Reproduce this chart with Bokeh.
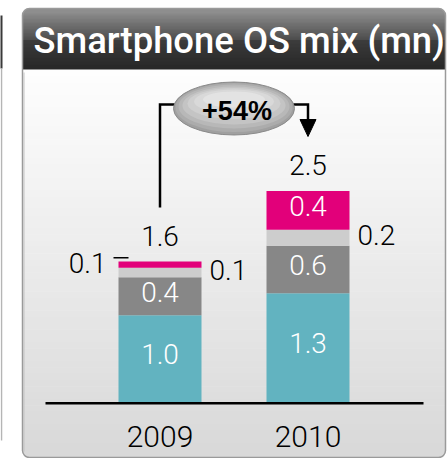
from bokeh.plotting import figure
from bokeh.models import Range1d, ColumnDataSource
from bokeh.core.properties import value
from bokeh.embed import file_html
from bokeh.resources import INLINE

# ---------------- data ----------------
years = ["2009", "2010"]
seg_teal = [1.00, 1.25]
seg_dark = [0.43, 0.54]
seg_light = [0.11, 0.18]
seg_pink = [0.07, 0.44]
lbl_teal = ["1.0", "1.3"]
lbl_dark = ["0.4", "0.6"]
lbl_light = ["0.1", "0.2"]
lbl_pink = ["0.1", "0.4"]
lbl_total = ["1.6", "2.5"]
growth = "+54%"
title = "Smartphone OS mix (mn)"

# ---------------- style ----------------
C_TEAL, C_DARK, C_LIGHT, C_PINK = "#62b3c0", "#878787", "#cdcdcd", "#e2007a"
FONT_NUM = value("Roboto Light")
FONT_TITLE = value("Roboto Medium")
FONT_BOLD = value("Liberation Sans")

W, H = 448, 458
PX_PER_CAT = 148.0
PX_PER_VAL = 88.0
BAR_W = 83 / PX_PER_CAT

p = figure(width=W, height=H, output_backend="svg", toolbar_location=None,
           x_range=Range1d(0, W), y_range=Range1d(H, 0),
           x_axis_location=None, y_axis_location=None,
           min_border=0, outline_line_color=None,
           background_fill_color="white", border_fill_color="white")
p.grid.visible = False
p.extra_x_ranges = {"cat": Range1d(-159.5 / PX_PER_CAT, -159.5 / PX_PER_CAT + W / PX_PER_CAT)}
p.extra_y_ranges = {"val": Range1d(-55.3 / PX_PER_VAL, -55.3 / PX_PER_VAL + H / PX_PER_VAL)}


def hexc(c):
    c = c.lstrip("#")
    return [int(c[i:i + 2], 16) for i in (0, 2, 4)]


def grad(stops, y0, y1, n, left, right):
    tops, bots, cols = [], [], []
    step = (y1 - y0) / n
    for i in range(n):
        ya = y0 + i * step
        ym = ya + step / 2
        col = stops[-1][1]
        for (sa, ca), (sb, cb) in zip(stops[:-1], stops[1:]):
            if sa <= ym <= sb:
                t = (ym - sa) / (sb - sa)
                a, b = hexc(ca), hexc(cb)
                col = "#%02x%02x%02x" % tuple(int(round(a[k] + (b[k] - a[k]) * t)) for k in range(3))
                break
        tops.append(ya)
        bots.append(ya + step + 0.6)
        cols.append(col)
    p.quad(left=[left] * n, right=[right] * n, top=tops, bottom=bots,
           fill_color=cols, line_color=None)


# neighbouring panel edge (left)
p.quad(left=[-4], right=[2], top=[15], bottom=[68], fill_color="#3a3a3a", line_color=None)
p.line(x=[1, 1], y=[68, 440], line_color="#b5b5b5", line_width=1.5)

FL, FR, FT, FB = 22, 445, 8, 457
# header
p.quad(left=[FL], right=[FR], top=[FT], bottom=[28], fill_color="#8e8e8e",
       line_color=None, border_radius=7)
grad([(13, "#8a8a8a"), (39, "#4d4d4d"), (40, "#3c3c3c"), (69, "#262626")], 13, 69, 40, FL, FR)
# body
p.quad(left=[FL], right=[FR], top=[410], bottom=[FB], fill_color="#d9d9d9",
       line_color=None, border_radius=7)
grad([(69, "#fefefe"), (457, "#d8d8d8")], 69, 449, 60, FL, FR)
# frame outline
p.quad(left=[FL], right=[FR], top=[FT], bottom=[FB], fill_color=None,
       line_color="#9a9a9a", line_width=1.5, border_radius=7)
p.line(x=[FL + 1.5, FL + 1.5], y=[72, FB - 6], line_color="#c4c4c4", line_width=1)

# title
p.text(x=[33], y=[39.5], text=[title], text_font=FONT_TITLE,
       text_font_size="36.4px", text_color="white", text_align="left", text_baseline="middle")

# bars
xs = list(range(len(years)))
src = ColumnDataSource(dict(x=xs, teal=seg_teal, dark=seg_dark, light=seg_light, pink=seg_pink))
p.vbar_stack(["teal", "dark", "light", "pink"], x="x", width=BAR_W, source=src,
             fill_color=[C_TEAL, C_DARK, C_LIGHT, C_PINK], line_color=None,
             x_range_name="cat", y_range_name="val")

# baseline
p.line(x=[45, 423], y=[0, 0], y_range_name="val", line_color="black", line_width=2.5)

# cumulative positions
c1 = [a for a in seg_teal]
c2 = [a + b for a, b in zip(c1, seg_dark)]
c3 = [a + b for a, b in zip(c2, seg_light)]
c4 = [a + b for a, b in zip(c3, seg_pink)]

num = dict(text_font=FONT_NUM, text_font_size="28px", text_baseline="middle",
           x_range_name="cat", y_range_name="val")
# inside labels
p.text(x=xs, y=[v / 2 for v in seg_teal], text=lbl_teal, text_color="white",
       text_align="center", y_offset=-5, **num)
p.text(x=xs, y=[a + b / 2 for a, b in zip(c1, seg_dark)], text=lbl_dark,
       text_color="white", text_align="center", y_offset=-4, **num)
p.text(x=[xs[1]], y=[c3[1] + seg_pink[1] / 2], text=[lbl_pink[1]],
       text_color="white", text_align="center", y_offset=-4, **num)
# outside labels
p.text(x=[x + BAR_W / 2 for x in xs], y=[a + b / 2 for a, b in zip(c2, seg_light)],
       text=lbl_light, text_color="black", text_align="left", x_offset=8, y_offset=-3, **num)
p.text(x=[xs[0] - BAR_W / 2], y=[c3[0] + seg_pink[0] / 2], text=[lbl_pink[0]],
       text_color="black", text_align="right", x_offset=-12, y_offset=-2, **num)
p.segment(x0=[xs[0] - BAR_W / 2 - 5 / PX_PER_CAT], x1=[xs[0] - BAR_W / 2 + 10 / PX_PER_CAT],
          y0=[c4[0] + 0.042], y1=[c4[0] + 0.042], line_color="black", line_width=1.5,
          x_range_name="cat", y_range_name="val")
# totals
p.text(x=xs, y=c4, text=lbl_total, text_color="black", text_align="center",
       y_offset=-26, **num)
# years
p.text(x=xs, y=[436] * len(xs), text=years, text_font=FONT_NUM, text_font_size="30px",
       text_color="black", text_align="center", text_baseline="middle", x_range_name="cat")

# growth connector
mid = (xs[0] + xs[1]) / 2
p.line(x=[xs[0], xs[0], mid - 0.35], y=[207, 104, 104], x_range_name="cat",
       line_color="black", line_width=2.5, line_join="miter")
p.line(x=[mid + 0.35, xs[1], xs[1]], y=[104, 104, 121], x_range_name="cat",
       line_color="black", line_width=2.5, line_join="miter")
p.patch(x=[xs[1] - 8 / PX_PER_CAT, xs[1] + 8 / PX_PER_CAT, xs[1]], y=[119, 119, 136],
        x_range_name="cat", fill_color="black", line_color="black", line_width=1)

layers = [(121, 53, 0, "#a0a0a0"), (117, 49, -1, "#acacac"), (111, 44, -2, "#b8b8b8"),
          (103, 38, -3, "#c4c4c4"), (93, 31, -5, "#cfcfcf"), (80, 24, -7, "#d9d9d9"),
          (62, 16, -9, "#e3e3e3")]
for w, h, dy, col in layers:
    p.ellipse(x=[mid], y=[108 + dy], width=[w], height=[h], width_units="screen",
              height_units="screen", x_range_name="cat", fill_color=col, line_color=None)
p.ellipse(x=[mid], y=[108], width=[121], height=[53], width_units="screen",
          height_units="screen", x_range_name="cat", fill_color=None,
          line_color="#8a8a8a", line_width=1)
p.text(x=[mid], y=[110], text=[growth], text_font=FONT_BOLD, text_font_style="bold",
       text_font_size="27px", text_color="black", text_align="center",
       text_baseline="middle", x_offset=3, x_range_name="cat")

open("out.html", "w").write(file_html(p, INLINE))
